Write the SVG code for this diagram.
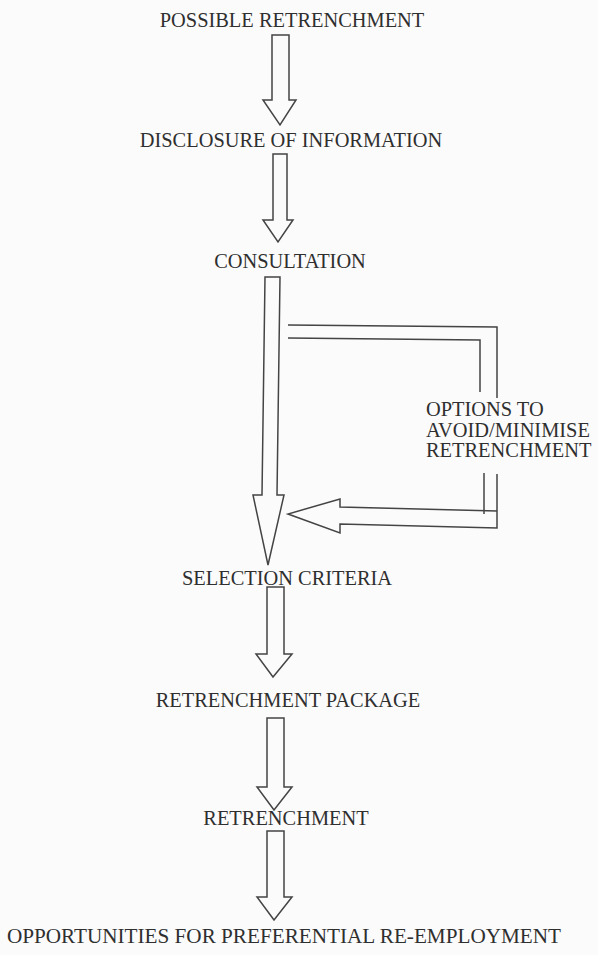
<svg xmlns="http://www.w3.org/2000/svg" width="598" height="955" viewBox="0 0 598 955">
<style>
.lbl{font-family:"Liberation Serif","Times New Roman",serif;font-size:20.4px;fill:#2f2f2f;text-anchor:middle}
.opt{font-family:"Liberation Serif","Times New Roman",serif;font-size:20.4px;fill:#2f2f2f;text-anchor:start}
.arr{fill:none;stroke:#444;stroke-width:1.5;stroke-linejoin:miter}
</style>
<rect x="0" y="0" width="598" height="955" fill="#fbfbfb"/>
<g id="n1"><text class="lbl" x="292" y="27">POSSIBLE RETRENCHMENT</text></g>
<g id="n2"><text class="lbl" x="291" y="147">DISCLOSURE OF INFORMATION</text></g>
<g id="n3"><text class="lbl" x="290" y="268">CONSULTATION</text></g>
<g id="n4"><text class="opt" x="426" y="416">OPTIONS TO</text><text class="opt" x="426" y="437">AVOID/MINIMISE</text><text class="opt" x="426" y="457">RETRENCHMENT</text></g>
<g id="n5"><text class="lbl" x="287" y="585">SELECTION CRITERIA</text></g>
<g id="n6"><text class="lbl" x="288" y="707">RETRENCHMENT PACKAGE</text></g>
<g id="n7"><text class="lbl" x="286" y="825">RETRENCHMENT</text></g>
<g id="n8"><text class="lbl" x="284" y="943" style="font-size:21.2px">OPPORTUNITIES FOR PREFERENTIAL RE-EMPLOYMENT</text></g>
<g id="connectors">
<path class="arr" d="M272,35 L289,35 L289,100 L296,100 L280,125 L263,100 L272,100 Z"/>
<path class="arr" d="M273,154 L287,154 L287,220 L293,220 L278,242 L263,220 L273,220 Z"/>
<path class="arr" d="M265,277 L280,277 L277,495 L284,495 L268,565 L253,495 L262,495 Z"/>
<path class="arr" d="M288,325 L497,327 L497,398"/>
<path class="arr" d="M288,338 L480,340 L480,392"/>
<path class="arr" d="M497,474 L497,528 L340,524 L340,533 L288,514 L340,499 L340,507 L497,511"/>
<path class="arr" d="M484,473 L484,514"/>
<path class="arr" d="M267,587 L284,587 L284,654 L292,654 L273,677 L256,654 L267,654 Z"/>
<path class="arr" d="M267,718 L284,718 L284,787 L292,787 L274,810 L257,787 L267,787 Z"/>
<path class="arr" d="M267,831 L284,831 L284,897 L292,897 L274,920 L257,897 L267,897 Z"/>
</g>
</svg>
